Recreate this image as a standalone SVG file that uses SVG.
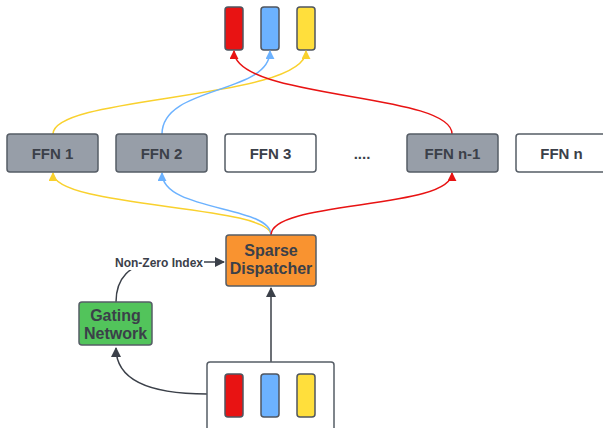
<svg xmlns="http://www.w3.org/2000/svg" width="603" height="428" viewBox="0 0 603 428">
<style>
.box{stroke:#565d66;stroke-width:1.5}
.grey{fill:#979ea8}
.white{fill:#ffffff}
.lbl{font-family:"Liberation Sans",Arial,sans-serif;font-weight:bold;fill:#3b4049;text-anchor:middle}
.tok{stroke:#4f5660;stroke-width:1.5}
.c{fill:none;stroke-width:1.5}
</style>
<defs>
<marker id="aY" viewBox="0 0 10 10" refX="9" refY="5" markerWidth="9" markerHeight="9" markerUnits="userSpaceOnUse" orient="auto"><path d="M0,0 L10,5 L0,10 z" fill="#f9d12e"/></marker>
<marker id="aB" viewBox="0 0 10 10" refX="9" refY="5" markerWidth="9" markerHeight="9" markerUnits="userSpaceOnUse" orient="auto"><path d="M0,0 L10,5 L0,10 z" fill="#6cb2ff"/></marker>
<marker id="aR" viewBox="0 0 10 10" refX="9" refY="5" markerWidth="9" markerHeight="9" markerUnits="userSpaceOnUse" orient="auto"><path d="M0,0 L10,5 L0,10 z" fill="#e81313"/></marker>
<marker id="aD" viewBox="0 0 10 10" refX="9" refY="5" markerWidth="10" markerHeight="10" markerUnits="userSpaceOnUse" orient="auto"><path d="M0,0 L10,5 L0,10 z" fill="#3b4049"/></marker>
</defs>
<rect width="603" height="428" fill="#ffffff"/>

<g id="output-tokens">
<rect class="tok" x="225" y="7" width="18" height="43" rx="3" fill="#e81313"/>
<rect class="tok" x="261" y="7" width="18" height="43" rx="3" fill="#6cb2ff"/>
<rect class="tok" x="297" y="7" width="18" height="43" rx="3" fill="#ffdf3c"/>
</g>

<g id="connectors">
<path class="c" stroke="#f9d12e" d="M53,134 C53,95 306,100 306,51" marker-end="url(#aY)"/>
<path class="c" stroke="#6cb2ff" d="M162,134 C162,85 270,95 270,51" marker-end="url(#aB)"/>
<path class="c" stroke="#e81313" d="M452,134 C452,92 234,100 234,51" marker-end="url(#aR)"/>
<path class="c" stroke="#f9d12e" d="M271,235 C271,205 53,208 53,173" marker-end="url(#aY)"/>
<path class="c" stroke="#6cb2ff" d="M271,235 C271,205 162,212 162,173" marker-end="url(#aB)"/>
<path class="c" stroke="#e81313" d="M271,235 C271,200 452,210 452,173" marker-end="url(#aR)"/>
<path class="c" stroke="#3b4049" stroke-width="2" d="M271,362 L271,288" marker-end="url(#aD)"/>
<path class="c" stroke="#3b4049" stroke-width="2" d="M207,394 C150,394 116,380 116,348" marker-end="url(#aD)"/>
<path class="c" stroke="#3b4049" stroke-width="2" d="M116,302 C116,280 128,262 160,262 L224,262" marker-end="url(#aD)"/>
<rect x="113" y="254" width="91" height="16" fill="#ffffff"/>
<text class="lbl" x="159" y="266.5" font-size="12">Non-Zero Index</text>
</g>

<g id="ffn1"><rect class="box grey" x="7" y="134" width="91" height="38" rx="3"/><text class="lbl" x="52.5" y="158.5" font-size="15">FFN 1</text></g>
<g id="ffn2"><rect class="box grey" x="116" y="134" width="91" height="38" rx="3"/><text class="lbl" x="161.5" y="158.5" font-size="15">FFN 2</text></g>
<g id="ffn3"><rect class="box white" x="225" y="134" width="91" height="38" rx="3"/><text class="lbl" x="270.5" y="158.5" font-size="15">FFN 3</text></g>
<g id="dots"><text class="lbl" x="362" y="158.5" font-size="15">....</text></g>
<g id="ffn-n-1"><rect class="box grey" x="407" y="134" width="91" height="38" rx="3"/><text class="lbl" x="452.5" y="158.5" font-size="15">FFN n-1</text></g>
<g id="ffn-n"><rect class="box white" x="516" y="134" width="91" height="38" rx="3"/><text class="lbl" x="561.5" y="158.5" font-size="15">FFN n</text></g>

<g id="dispatcher"><rect class="box" x="226" y="235" width="90" height="51" rx="3" fill="#f99330"/>
<text class="lbl" x="271" y="256" font-size="16">Sparse</text>
<text class="lbl" x="271" y="274" font-size="16">Dispatcher</text></g>

<g id="gating"><rect class="box" x="79" y="302" width="73" height="43" rx="3" fill="#52c45b"/>
<text class="lbl" x="115.5" y="320.5" font-size="16">Gating</text>
<text class="lbl" x="115.5" y="338.5" font-size="16">Network</text></g>

<g id="input">
<rect class="box white" x="207" y="362" width="127" height="80" rx="3"/>
<rect class="tok" x="225" y="374" width="18" height="43" rx="3" fill="#e81313"/>
<rect class="tok" x="261" y="374" width="18" height="43" rx="3" fill="#6cb2ff"/>
<rect class="tok" x="297" y="374" width="18" height="43" rx="3" fill="#ffdf3c"/>
</g>
</svg>
